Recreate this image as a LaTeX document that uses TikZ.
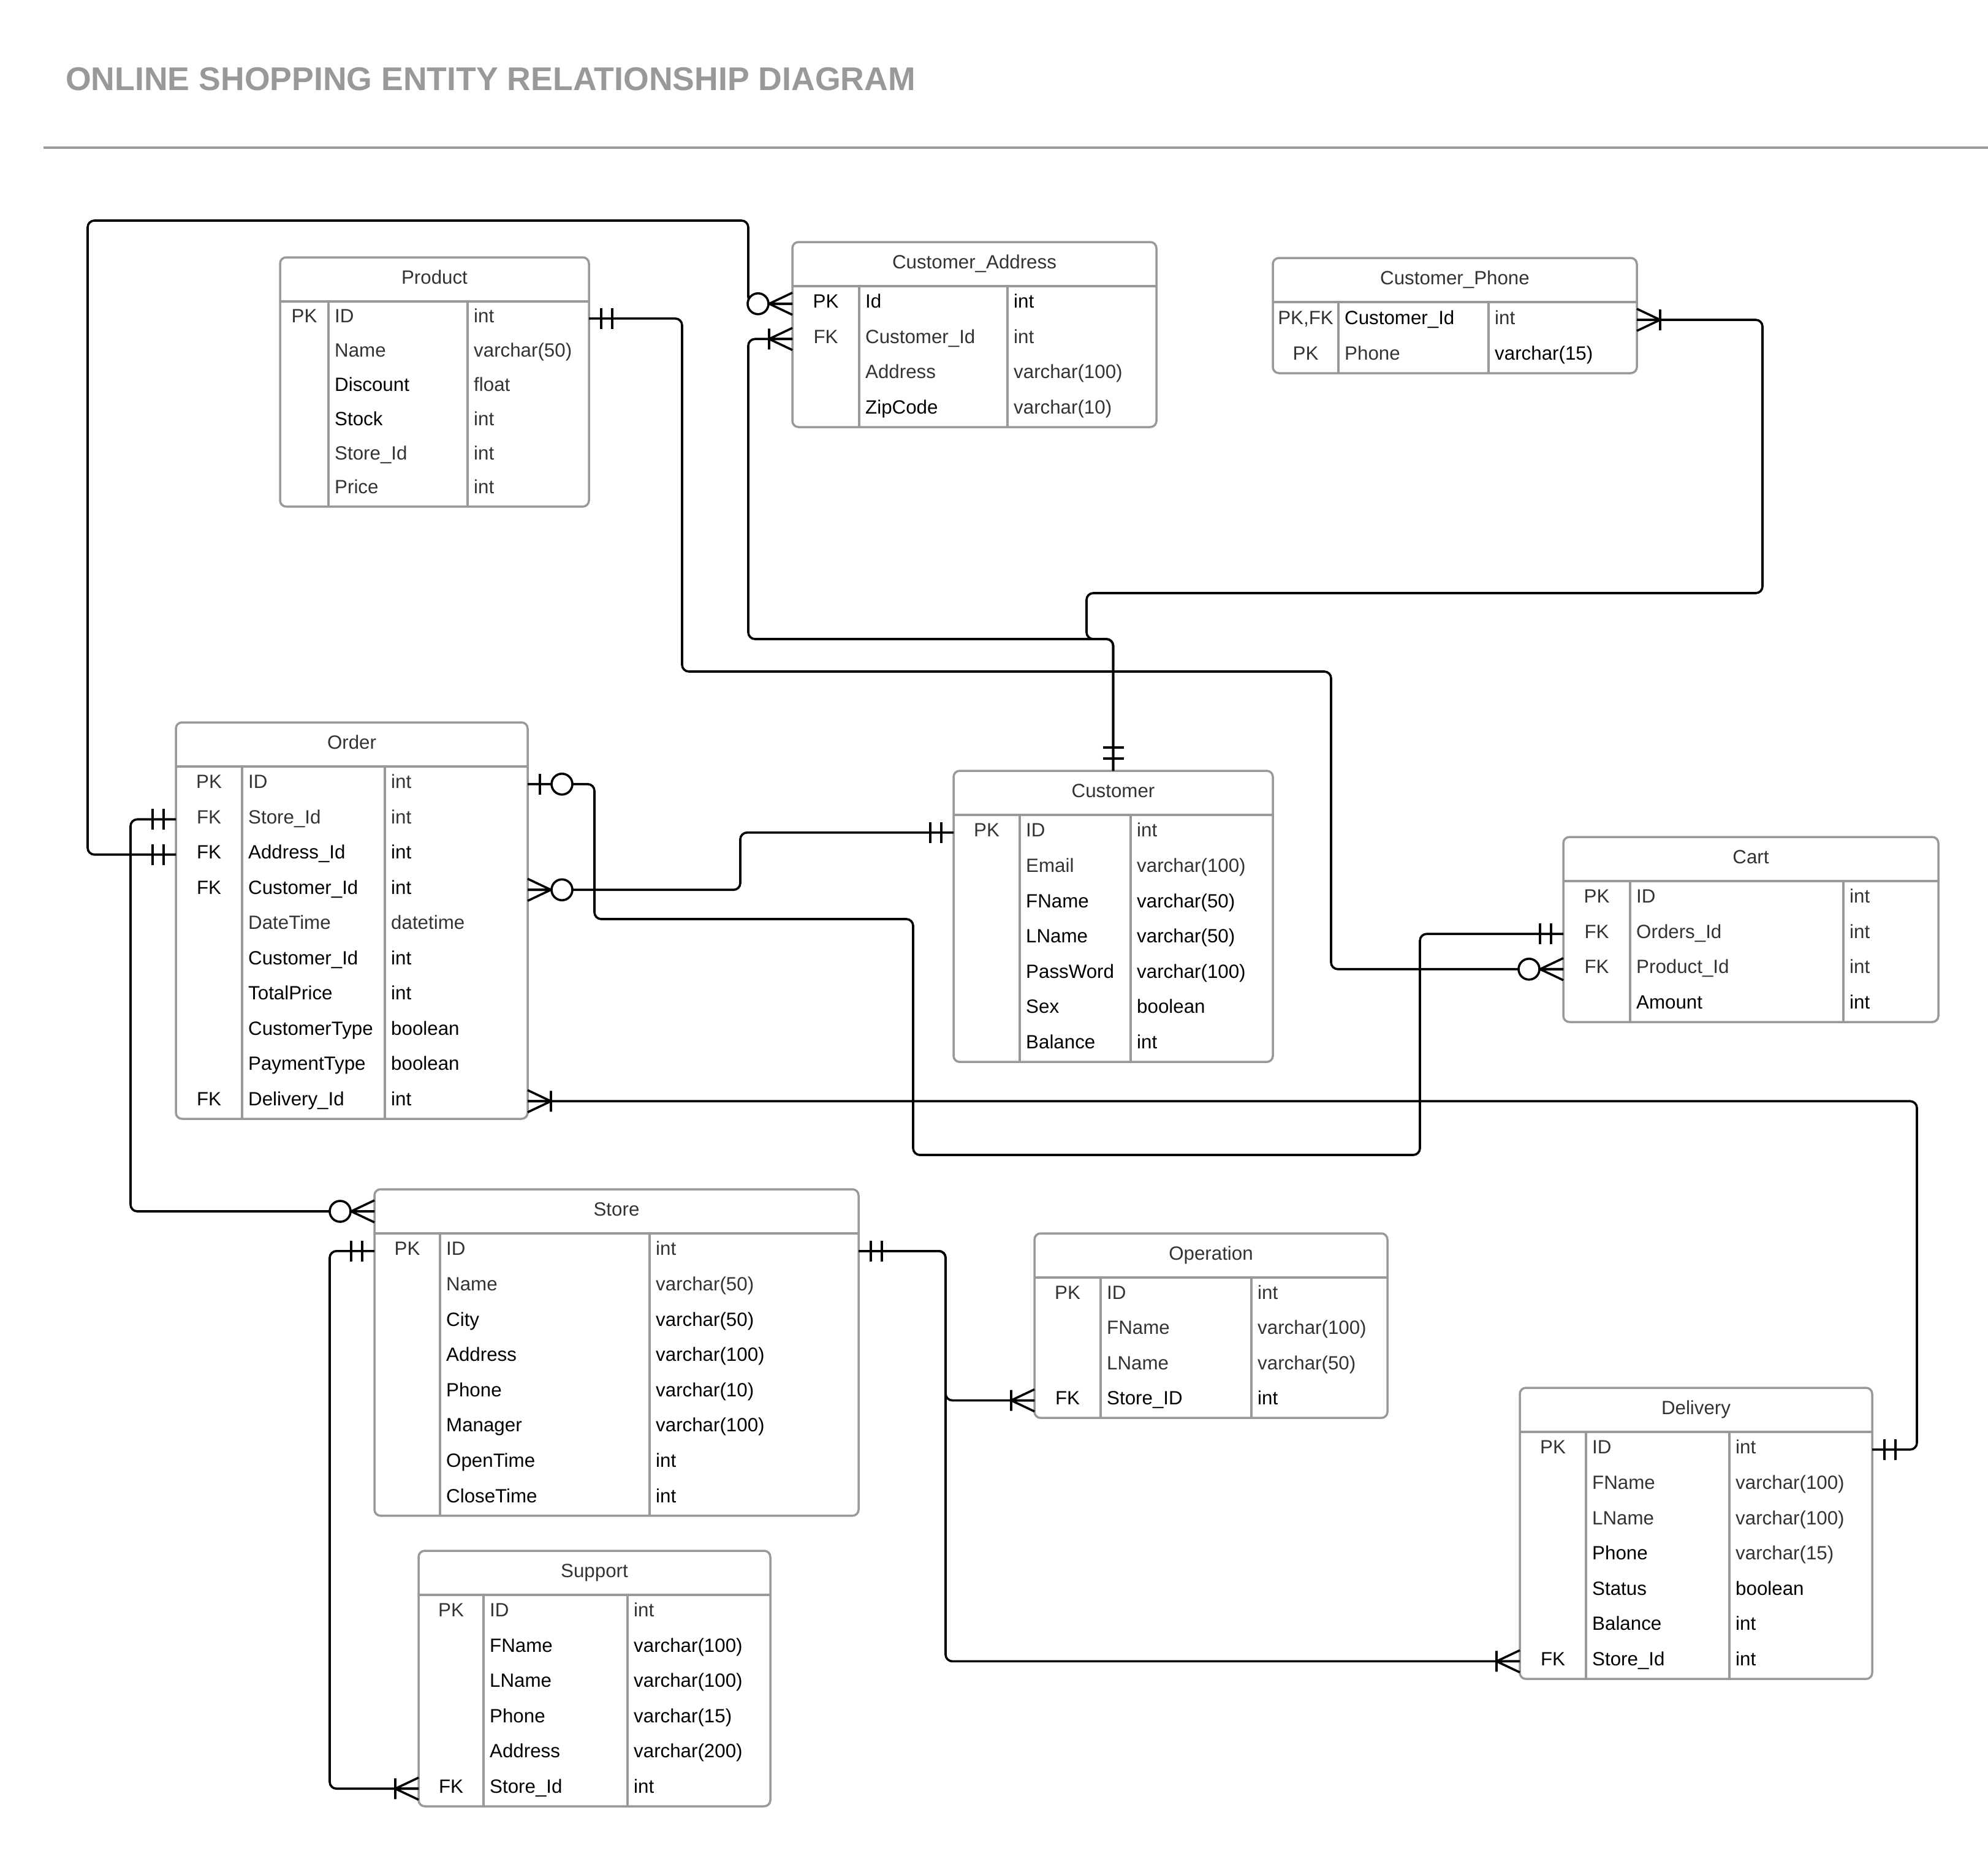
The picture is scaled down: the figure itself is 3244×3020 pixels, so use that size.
\documentclass[tikz,border=0pt]{standalone}
\usepackage{fontspec}
\setmainfont{Liberation Sans}
\definecolor{txt}{RGB}{51,51,51}
\definecolor{frame}{RGB}{153,153,153}
\tikzset{
 tbl/.style={draw=frame, line width=3.5pt, rounded corners=10pt, fill=white, inner sep=0pt, outer sep=0pt},
 div/.style={draw=frame, line width=3.5pt},
 cell/.style={inner sep=0pt, text=txt, font=\fontsize{31.3}{36}\selectfont},
 conn/.style={draw=black, line width=3.6pt, rounded corners=11pt},
 mk/.style={draw=black, line width=3.6pt},
}
\newcommand\B[1]{\textcolor{black}{#1}}
\newcommand\ertable[9]{%
 \pgfmathsetmacro\tX{#2}%
 \pgfmathsetmacro\tY{#3}%
 \pgfmathsetmacro\tW{#4}%
 \pgfmathsetmacro\tA{#2+#5}%
 \pgfmathsetmacro\tB{#2+#6}%
 \pgfmathsetmacro\tR{#8}%
 \pgfmathsetmacro\tHY{#3+72}%
 \pgfmathsetmacro\tBot{#3+72+#7*#8}%
 \pgfmathsetmacro\tH{72+#7*#8}%
 \def\tN{#1}%
 \node[tbl, minimum width=\tW pt, minimum height=\tH pt, anchor=north west] (#1) at (\tX,\tY) {};
 \draw[div] (\tX,\tHY) -- (\tX+\tW,\tHY);
 \draw[div] (\tA,\tHY) -- (\tA,\tBot) (\tB,\tHY) -- (\tB,\tBot);
 \node[cell, anchor=base] (#1-title) at (\tX+\tW/2,\tY+43) {#9};
 \coordinate (#1-HL) at (\tX,\tY+36);
 \coordinate (#1-HR) at (\tX+\tW,\tY+36);
}
\newcommand\ertrow[4]{%
 \pgfmathsetmacro\rY{\tHY+(#1-0.5)*\tR}%
 \node[cell, anchor=base] (\tN-k#1) at ({(\tX+\tA)/2},\rY+7) {#2};
 \node[cell, anchor=base west] (\tN-a#1) at (\tA+10,\rY+7) {#3};
 \node[cell, anchor=base west] (\tN-t#1) at (\tB+10,\rY+7) {#4};
 \coordinate (\tN-L#1) at (\tX,\rY);
 \coordinate (\tN-R#1) at (\tX+\tW,\rY);
}
\newcommand\mkMand[2]{\begin{scope}[shift={(#1)},rotate=#2]\draw[mk] (20,-17) -- (20,17) (38,-17) -- (38,17);\end{scope}}
\newcommand\mkOpt[2]{\begin{scope}[shift={(#1)},rotate=#2]\draw[mk] (20,-17) -- (20,17);\draw[mk,fill=white] (56,0) circle[radius=17pt];\end{scope}}
\newcommand\mkMany[2]{\begin{scope}[shift={(#1)},rotate=#2]\draw[mk] (0,-18) -- (38,0) -- (0,18) (0,0) -- (38,0) (38,-17) -- (38,17);\end{scope}}
\newcommand\mkZMany[2]{\begin{scope}[shift={(#1)},rotate=#2]\draw[mk] (0,-18) -- (38,0) -- (0,18) (0,0) -- (40,0);\draw[mk,fill=white] (56,0) circle[radius=17pt];\end{scope}}
\begin{document}
\begin{tikzpicture}[x=1pt,y=-1pt]
\useasboundingbox (0,0) rectangle (3244,3020);
\fill[white] (0,0) rectangle (3244,3020);
% title
\node[anchor=base west, inner sep=0pt, text=frame, font=\bfseries\fontsize{53.6}{60}\selectfont] (title) at (107,147) {ONLINE SHOPPING ENTITY RELATIONSHIP DIAGRAM};
\coordinate (ruleL) at (71,241);
\coordinate (ruleR) at (3244,241);
\draw[frame, line width=3.5pt] (ruleL) -- (ruleR);

% tables
\ertable{product}{457}{420}{504}{79}{306}{6}{55.8}{Product}
\ertrow{1}{PK}{ID}{int}
\ertrow{2}{}{Name}{varchar(50)}
\ertrow{3}{}{\B{Discount}}{float}
\ertrow{4}{}{\B{Stock}}{int}
\ertrow{5}{}{Store\_Id}{int}
\ertrow{6}{}{Price}{int}

\ertable{ca}{1293}{395}{594}{109}{351}{4}{57.5}{Customer\_Address}
\ertrow{1}{\B{PK}}{\B{Id}}{\B{int}}
\ertrow{2}{FK}{Customer\_Id}{int}
\ertrow{3}{}{Address}{varchar(100)}
\ertrow{4}{}{\B{ZipCode}}{varchar(10)}

\ertable{cp}{2077}{421}{594}{107}{352}{2}{58}{Customer\_Phone}
\ertrow{1}{PK,FK}{\B{Customer\_Id}}{int}
\ertrow{2}{PK}{Phone}{\B{varchar(15)}}

\ertable{order}{287}{1179}{574}{108}{341}{10}{57.5}{Order}
\ertrow{1}{PK}{ID}{int}
\ertrow{2}{FK}{Store\_Id}{int}
\ertrow{3}{\B{FK}}{\B{Address\_Id}}{\B{int}}
\ertrow{4}{\B{FK}}{\B{Customer\_Id}}{\B{int}}
\ertrow{5}{}{DateTime}{datetime}
\ertrow{6}{}{\B{Customer\_Id}}{\B{int}}
\ertrow{7}{}{\B{TotalPrice}}{\B{int}}
\ertrow{8}{}{\B{CustomerType}}{\B{boolean}}
\ertrow{9}{}{\B{PaymentType}}{\B{boolean}}
\ertrow{10}{\B{FK}}{\B{Delivery\_Id}}{\B{int}}

\ertable{customer}{1556}{1258}{521}{108}{289}{7}{57.6}{Customer}
\ertrow{1}{PK}{ID}{int}
\ertrow{2}{}{Email}{varchar(100)}
\ertrow{3}{}{\B{FName}}{\B{varchar(50)}}
\ertrow{4}{}{\B{LName}}{\B{varchar(50)}}
\ertrow{5}{}{\B{PassWord}}{\B{varchar(100)}}
\ertrow{6}{}{\B{Sex}}{\B{boolean}}
\ertrow{7}{}{\B{Balance}}{\B{int}}

\ertable{cart}{2551}{1366}{612}{109}{457}{4}{57.5}{Cart}
\ertrow{1}{PK}{ID}{int}
\ertrow{2}{FK}{Orders\_Id}{int}
\ertrow{3}{FK}{Product\_Id}{int}
\ertrow{4}{}{\B{Amount}}{\B{int}}

\ertable{store}{611}{1941}{790}{107}{449}{8}{57.6}{Store}
\ertrow{1}{PK}{ID}{int}
\ertrow{2}{}{Name}{varchar(50)}
\ertrow{3}{}{\B{City}}{\B{varchar(50)}}
\ertrow{4}{}{\B{Address}}{\B{varchar(100)}}
\ertrow{5}{}{\B{Phone}}{\B{varchar(10)}}
\ertrow{6}{}{\B{Manager}}{\B{varchar(100)}}
\ertrow{7}{}{\B{OpenTime}}{\B{int}}
\ertrow{8}{}{\B{CloseTime}}{\B{int}}

\ertable{operation}{1688}{2013}{576}{108}{354}{4}{57.3}{Operation}
\ertrow{1}{PK}{ID}{int}
\ertrow{2}{}{FName}{varchar(100)}
\ertrow{3}{}{LName}{varchar(50)}
\ertrow{4}{\B{FK}}{\B{Store\_ID}}{\B{int}}

\ertable{delivery}{2480}{2265}{575}{108}{342}{7}{57.6}{Delivery}
\ertrow{1}{PK}{ID}{int}
\ertrow{2}{}{FName}{varchar(100)}
\ertrow{3}{}{LName}{varchar(100)}
\ertrow{4}{}{\B{Phone}}{varchar(15)}
\ertrow{5}{}{\B{Status}}{\B{boolean}}
\ertrow{6}{}{\B{Balance}}{\B{int}}
\ertrow{7}{\B{FK}}{\B{Store\_Id}}{\B{int}}

\ertable{support}{683}{2531}{574}{106}{341}{6}{57.5}{Support}
\ertrow{1}{PK}{ID}{int}
\ertrow{2}{}{\B{FName}}{\B{varchar(100)}}
\ertrow{3}{}{\B{LName}}{\B{varchar(100)}}
\ertrow{4}{}{\B{Phone}}{\B{varchar(15)}}
\ertrow{5}{}{\B{Address}}{\B{varchar(200)}}
\ertrow{6}{\B{FK}}{\B{Store\_Id}}{\B{int}}

% connectors
\draw[conn] (product-R1) -| (1113,1096) -- (2172,1096) |- (cart-L3);
\draw[conn] (order-L3) -| (143,360) -- (1221,360) |- (ca-L1);
\draw[conn] (ca-L2) -| (1221,1043) -| (customer.north);
\draw[conn] (cp-R1) -| (2876,968) -| (1773,1043) -| (customer.north);
\draw[conn] (order-L2) -| (213,1700) |- (store-HL);
\draw[conn] (order-R1) -| (970,1500) -| (1490,1885) -- (2317,1885) |- (cart-L2);
\draw[conn] (order-R4) -| (1208,1400) |- (customer-L1);
\draw[conn] (order-R10) -| (3128,2000) |- (delivery-R1);
\draw[conn] (store-R1) -| (1543,2100) |- (operation-L4);
\draw[conn] (store-R1) -| (1543,2300) |- (delivery-L7);
\draw[conn] (store-L1) -| (538,2500) |- (support-L6);

% end markers
\mkMand{product-R1}{0}
\mkZMany{cart-L3}{180}
\mkMand{order-L3}{180}
\mkZMany{ca-L1}{180}
\mkMany{ca-L2}{180}
\mkMand{customer.north}{90}
\mkMany{cp-R1}{0}
\mkMand{order-L2}{180}
\mkZMany{store-HL}{180}
\mkOpt{order-R1}{0}
\mkMand{cart-L2}{180}
\mkZMany{order-R4}{0}
\mkMand{customer-L1}{180}
\mkMany{order-R10}{0}
\mkMand{delivery-R1}{0}
\mkMand{store-R1}{0}
\mkMany{operation-L4}{180}
\mkMany{delivery-L7}{180}
\mkMand{store-L1}{180}
\mkMany{support-L6}{180}
\end{tikzpicture}
\end{document}
